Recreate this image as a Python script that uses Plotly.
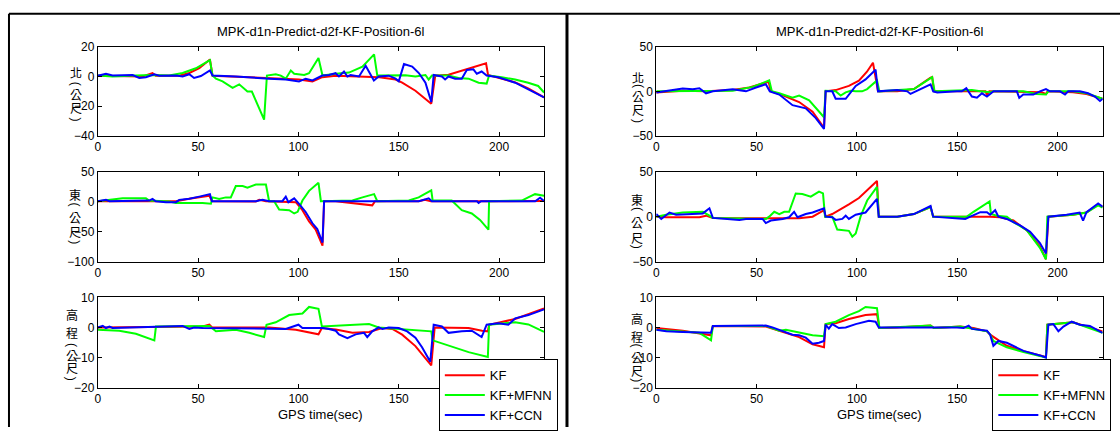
import plotly.graph_objects as go

W, H = 1120, 434
X_TICKS = [0, 50, 100, 150, 200]
TITLE = "MPK-d1n-Predict-d2f-KF-Position-6l"
XLABEL = "GPS time(sec)"
SERIES = ["KF", "KF+MFNN", "KF+CCN"]
COLORS = ["#ff0000", "#00ff00", "#0000ff"]

# ---------------- Left figure: North ----------------
LN_KF_t = [0, 22.4, 27.3, 28.9, 40.6, 45.6, 50.6, 55.9, 57.2, 68.8, 83.8, 100.3, 107, 111.9, 118.5, 140.4, 148.4, 151.7, 158.3, 166.2, 168.2, 174.8, 183.1, 193.5, 194.5, 199.6, 208.1, 214.5, 219.5, 222.4]
LN_KF_v = [0.5, 0, 2.3, 0.5, 0.5, 2.3, 5.5, 11.4, 0.5, 0, -1, -2.1, -3.3, -0.5, 0.5, -0.5, -2.1, -4.2, -9.6, -18.3, 0.5, 1.2, 4.4, 8.8, 1, -1, -4, -8, -11.5, -14]
LN_MF_t = [0, 7.4, 19, 27.3, 35.6, 42.3, 48.9, 55.9, 57.2, 58.9, 62.2, 67.2, 70.5, 74.6, 76.8, 82.9, 84.3, 88.7, 91.2, 93.7, 96.2, 97.9, 102.9, 105.3, 110, 112, 118.6, 125.2, 131.9, 137.7, 139.3, 153.3, 158.3, 163.3, 164.9, 166.5, 174.8, 179.8, 184.8, 189.8, 193.8, 195, 201.3, 208, 214.5, 219.5, 222.4]
LN_MF_v = [0.6, 0, 0.6, 1, 0.6, 2.3, 5.5, 11, 0.6, -1.5, -3.3, -7.6, -5.3, -10.1, -10.1, -29, 0.6, 1.5, 0.6, -1.5, 4, 1.8, 1, 2.2, 12.4, 0.6, 1.8, 2.6, 6.5, 14.8, 0.6, 0.8, 0, 1, -2.1, 0.6, 0.6, -1, -1.5, -4.2, -4.8, 0.6, -0.5, -2.1, -4.2, -6.4, -10.8]
LN_CC_t = [0, 4.1, 7.4, 17.4, 20.7, 24, 28.2, 30.7, 39, 42.3, 45.6, 48, 51.4, 55.9, 57.2, 68.8, 85.4, 93.7, 100.3, 103.6, 107, 111.9, 115.2, 118.5, 120.2, 122.7, 124.4, 126, 130.2, 133.5, 137.6, 140, 145, 148.4, 150, 152.6, 156.7, 160, 163.3, 166.2, 167.4, 171.5, 173.1, 174.8, 178.1, 181.4, 183.9, 187.2, 188.9, 191.3, 193.8, 199.6, 208, 214.5, 222.4]
LN_CC_v = [0.5, 1.8, 0.6, 1, -1, -0.5, 1.5, 0.5, 0.6, 0, 1.5, -1, 0.3, 4, 0.6, 0, -1.5, -2.1, -3.3, -1.5, -2.7, 0.6, 1, 2.2, 0, 3.3, 0, 1, 0, 7.2, -2.7, 0, 0.5, -1.5, -3.3, 8.3, 6.6, 2.3, -4.2, -17.2, 1, 0, -2, 0, -1.5, -1.5, 4.4, 4.8, 1.8, 3.3, 0.6, -0.5, -4.2, -8.5, -14]

# ---------------- Left figure: East ----------------
LM_KF_t = [0, 35.6, 39, 45.6, 55.6, 56.9, 78.8, 80.5, 83.8, 98.7, 102, 105.3, 108.6, 112, 112.8, 118.6, 126.9, 135.2, 136.8, 138.2, 160, 163, 166, 200, 222.4]
LM_KF_v = [0.7, 0.5, 0.7, 4.6, 9.9, 0.7, 0.2, 2.9, 0.7, -0.9, -14.3, -33, -46.4, -73.2, 0.7, 0.7, -2.5, -4.6, -6.2, 0.7, 0.7, 3, 0.7, 0.5, 1]
LM_MF_t = [0, 7.4, 12.4, 24, 25.6, 35.6, 39, 52.2, 56.4, 57.2, 60.5, 63.8, 66.3, 68.8, 72.2, 74.6, 78.8, 83.8, 85.4, 87.9, 90.4, 95.4, 97.9, 99.6, 102, 105.3, 110, 111.2, 126.9, 131.9, 137.7, 139.3, 155, 159.9, 166.2, 166.9, 176.4, 181.4, 186.4, 190.5, 194.7, 195, 211.3, 214.5, 217.9, 222.4]
LM_MF_v = [0.7, 2.9, 5.5, 5.5, 1.8, 0.2, -2.5, -2.5, -3.6, 7.1, 4.5, 7, 7, 25.8, 25.8, 23, 28.4, 28.4, 0.7, 0.7, -13.3, -14.3, -19.7, -17, 1.8, 17.9, 31.3, 0.7, 1.8, 7, 12.4, 0.7, 1.8, 7, 18.8, 1.8, 1.8, -14.3, -19.7, -30.4, -46.5, 0.7, 1.8, 7, 12.4, 9.7]
LM_CC_t = [0, 4.1, 5.8, 25.6, 27.3, 28.9, 34, 39, 40.6, 45.6, 50.6, 55.9, 56.9, 78.8, 82.1, 85.4, 92, 93.7, 95, 97.9, 100.3, 103.6, 107, 109.4, 112, 112.8, 140, 160, 164.9, 166.5, 189, 189.8, 191, 218, 220.4, 222.4]
LM_CC_v = [0.7, 2.9, 0.7, 1.8, 4.6, 0.7, -0.9, -0.9, 2.9, 4.6, 8.3, 12.5, 0.7, 0.7, 2.9, 0.7, 0.7, 8.3, -0.9, 5.5, -3.8, -17.2, -36, -45.5, -68, 0.7, 0.7, 0.7, 5.4, 0.7, 0.7, -2.1, 0.7, 0.7, 6.4, 1]

# ---------------- Left figure: Height ----------------
LB_KF_t = [0, 52.2, 55.6, 57, 85.4, 98.7, 110, 111.7, 118.6, 126.9, 135.2, 141.8, 146.8, 151.7, 158.3, 166.2, 167.9, 184.8, 191.5, 194.4, 195, 208, 222.4]
LB_KF_v = [0, 0.3, 0.9, 0, 0, -0.8, -2.3, -0.2, -0.7, -1.8, -1.5, -0.2, -0.5, -2.4, -6.2, -12.6, 0, -0.2, -1.1, -1.3, 0.9, 2.8, 6.3]
LB_MF_t = [0, 10.7, 19, 28.2, 29, 55.6, 58.9, 62.2, 68.8, 75.5, 82.9, 84.1, 88.7, 95.4, 102, 105.3, 110, 111.7, 118.6, 135.2, 140, 166.2, 166.9, 174.8, 184.8, 194.4, 195, 208, 214.6, 222.4]
LB_MF_v = [-0.8, -1.1, -2.1, -4.3, 0.3, 0.5, -1.3, -1.1, -0.8, -1.8, -3.2, 0.9, 1.7, 4.1, 4.6, 6.8, 6.2, 0.3, 0.5, 1.1, 0, -1.3, -4.3, -6.1, -8.2, -9.8, 0.9, 1.7, 1.0, -1.5]
LB_CC_t = [0, 2.5, 4.1, 5.8, 7.4, 42.3, 45.6, 48, 52.2, 93.7, 100, 102, 112, 115.2, 118.6, 120.2, 124.4, 128.5, 132.7, 134.3, 136.8, 140, 141.8, 145, 150, 154.2, 158.3, 161.6, 165.7, 167.4, 171.5, 174.8, 181.4, 186.4, 191.3, 193.8, 199.6, 204.6, 208, 214.6, 222.4]
LB_CC_v = [0, 0.5, -0.2, 0.3, -0.2, 0.5, -0.5, 0, -0.2, -0.5, 0.9, -0.2, -0.2, -0.5, -1.1, -2.3, -3.6, -2.3, -1.8, -3.2, -1.3, 0, -0.5, 0, -0.2, -1.3, -3.4, -6.6, -11.4, 0.9, 0.3, -1.8, -1.3, -1.1, -3.2, 0.9, 1.4, 0.9, 3.0, 4.1, 6.0]

# ---------------- Right figure: North ----------------
RT_KF_t = [0, 13.2, 24.8, 38.1, 46.4, 56, 57.1, 61.3, 71.2, 77.9, 83.6, 84.4, 89.4, 96, 101, 105, 108, 110.5, 120.1, 128.4, 136.7, 137.5, 138.4, 164, 164.8, 166, 192, 194.2, 195, 207.7, 214.4, 222.4]
RT_KF_v = [-1.2, 0.6, 0, 1.4, 4.3, 10.7, 0, -2.9, -12, -22.8, -40.9, 0, 1.4, 6.1, 12, 22, 32, 0, 0, 2.5, 15.2, 15.9, 0, 0, -3.6, 0, -1, -2.9, 0, -1, -2.9, -8.3]
RT_MF_t = [0, 24.8, 38.1, 48, 56.3, 57.6, 61.3, 67.9, 71.2, 76.2, 83.6, 84.4, 89.4, 91.9, 94.4, 96.9, 99.4, 102.6, 105.1, 110, 111.2, 128.4, 137.5, 138.7, 157.3, 161.5, 166.4, 168.1, 182.9, 189.6, 194.2, 195.4, 207.7, 214.4, 222.4]
RT_MF_v = [0, 0, 0.7, 5, 12.2, 0, -2.2, -7.2, -4.7, -10.1, -29, 0.7, 0, -4.7, -1.1, 0.7, 0, 0, 2.5, 12.2, 0, 2.5, 15.9, 0, 1.4, 0, -1, 0, 0, -2.9, -3.6, 0, 0, -2.2, -8.3]
RT_CC_t = [0, 5, 13.2, 18.2, 21.5, 24.8, 28.2, 38.1, 44.7, 49.7, 54.6, 56.6, 61.3, 67.9, 74.5, 79.5, 83.6, 84.4, 87.7, 89.4, 94.4, 99.4, 104.3, 109.3, 110.5, 120.1, 125.1, 126.7, 136.7, 138, 140, 149.9, 152.3, 154.5, 157.3, 159.8, 162.3, 164.8, 168.1, 179.7, 180.9, 182.9, 187.9, 191.2, 194.2, 196.2, 201.2, 203.7, 205.3, 211.1, 215.2, 218.6, 221.1, 222.4]
RT_CC_v = [-1.2, 0.6, 3.1, 2.4, 3.5, -2.2, 0, 2.4, 0, 4.3, 7.9, 0, -3.6, -15.5, -19.1, -29.9, -42, 0, 0, -8.3, -8.3, 6.1, 13.3, 24.2, 0, 1.4, 0, -2.9, 7.9, 0, -1.2, 0, 0, 3.5, -5.8, -7.2, -2.2, -5.8, 0, 0, -7.2, -3.6, -3.6, 0, 2.5, 0, 0, -3.6, 0, 0, -2.2, -5.8, -10.8, -8.3]

# ---------------- Right figure: East ----------------
RM_KF_t = [0, 5, 21.5, 24.8, 28.2, 54.6, 71.2, 77.9, 83.6, 84.4, 87.7, 96, 101, 110, 110.9, 120.1, 128.4, 136.7, 138, 166.4, 171.4, 178, 184.6, 191.2, 194.2, 195.4, 207.7, 214.4, 220.2, 222.4]
RM_KF_v = [0, -0.7, -0.7, 1.1, -1.4, -1.4, -1.8, 0, 7.1, 0, 2.9, 13.6, 20.7, 39.6, 0, 0, 2.9, 10.7, 0, 0, -0.7, -4.3, -15, -32.9, -47.2, 0, 2.1, 4.6, 13.6, 10.7]
RM_MF_t = [0, 5, 13.2, 23.2, 26.5, 28.2, 54.6, 56.3, 58.8, 61.3, 63.8, 66.2, 69.5, 72.8, 77, 81.1, 83.1, 84.1, 87.7, 90.2, 96, 97.7, 99.4, 101.8, 105.1, 110, 110.9, 120.1, 128.4, 136.7, 138, 154.8, 158.1, 166.1, 166.8, 169.7, 174.7, 178, 184.6, 191.2, 194.2, 194.9, 207.7, 214.4, 220.2, 222.4]
RM_MF_v = [0, 2.1, 4.6, 5.4, 1.1, -1.4, -2.5, 0, 5.4, 2.9, 5.4, 5.4, 25.7, 25, 22.1, 27.8, 25.7, 0, 0, -14.3, -15.7, -22.1, -18.6, 0, 17.9, 32.9, 0, 0, 2.9, 10.7, 0, 0, 5.4, 16.8, 2.9, 1.1, 0, -6, -15, -34.6, -47.2, 0, 2.1, 4.6, 12.5, 10]
RM_CC_t = [0, 2.5, 6.6, 9.9, 23.2, 26.5, 28.2, 41.4, 44.7, 53, 54.6, 57.1, 63, 66.2, 68.7, 70.4, 74.5, 77.9, 83.6, 84.4, 87.7, 89.4, 92.7, 94.4, 96, 99.4, 104.3, 110, 110.9, 120.1, 128.4, 136.7, 138, 154, 156.5, 161.5, 164.8, 166.4, 168.9, 170.5, 174.7, 181.3, 186.3, 191.2, 194.2, 195.4, 204.5, 211, 212.7, 214.4, 220.2, 222.4]
RM_CC_v = [2.9, -2.5, 4.6, 2.1, 3.6, 9.3, -1.4, -3.6, -2.5, -2.5, -7.1, -4.3, -2.5, -0.7, 5.4, -0.7, 2.9, 4.6, 9.3, 0, -0.7, -3.6, -2.5, 1.1, -2.5, 2.1, 4.6, 19.6, 0, 0, 2.9, 11.8, 0, -2.5, 0, 5, 5, 2.1, 7.1, 0, -2.5, -9.6, -16.8, -29.3, -40.8, 0, 2.1, 4.6, -4.3, 5, 14.6, 11.1]

# ---------------- Right figure: Height ----------------
RB_KF_t = [0, 13.2, 27.3, 28.2, 54.6, 61.3, 71.2, 77.9, 83.6, 84.4, 89.4, 96, 104.3, 110, 111.2, 120.1, 136.7, 138.4, 151.5, 158.1, 164.8, 166.4, 174.7, 183, 191.2, 194.2, 194.9, 207.7, 222.4]
RB_KF_v = [-0.2, -1.1, -2.6, 0.5, 0.3, -1.1, -3.2, -5.6, -6.6, 1.1, 1.4, 2.8, 4.1, 4.4, -0.2, 0, 0.6, -0.2, 0.3, -0.2, -1.3, -2.4, -6.1, -7.9, -9.3, -9.8, 0.9, 1.7, -1.3]
RB_MF_t = [0, 13.2, 21.5, 27.3, 28.2, 54.6, 61.3, 64.6, 71.2, 77.9, 83.6, 84.4, 89.4, 96, 101, 104.3, 110, 111.2, 136.7, 138.4, 151.5, 164.8, 166.4, 168, 174.7, 183, 191.2, 194.2, 194.9, 207.7, 222.4]
RB_MF_v = [-0.8, -1.3, -1.8, -4.3, 0.5, 0.5, -1.1, -0.8, -1.8, -2.6, -2.9, 1.1, 1.9, 4.1, 5.4, 6.8, 6.4, -0.2, 0.6, -0.2, 0.3, -1.3, -2.4, -4.5, -6.6, -8.2, -9.5, -10, 0.9, 1.7, -1.8]
RB_CC_t = [0, 5, 13.2, 21.5, 27.3, 28.2, 54.6, 57.9, 62.9, 67.9, 71.2, 74.5, 77.9, 81.1, 83.6, 84.4, 86, 87.7, 91, 94.4, 99.4, 106, 109.3, 110.9, 149.9, 153.2, 155.7, 157.3, 164.8, 166.4, 168, 170.5, 174.7, 183, 191.2, 194.2, 195.4, 197.9, 200.4, 202.9, 207, 211.1, 216.1, 222.4]
RB_CC_v = [-0.8, -1.3, -1.5, -1.8, -1.8, 0.5, 0.6, 0, -1.1, -2.4, -2.6, -3.4, -5.4, -5.1, -4.5, 0.9, -0.4, 1.1, -0.2, 0, 1.1, 2.2, 1.9, 0, 0, -0.2, 0.6, -0.5, -1.1, -2.4, -6.1, -4.5, -5.1, -7.8, -9.3, -10, 0.9, 1.1, -1.3, 0.3, 1.9, 0.9, 0.5, -1.8]

# Y axis settings per panel
YR_N_L = [-40, 20]; YT_N_L = [-40, -20, 0, 20]
YR_E_L = [-100, 50]; YT_E_L = [-100, -50, 0, 50]
YR_H = [-20, 10]; YT_H = [-20, -10, 0, 10]
YR_R = [-50, 50]; YT_R = [-50, 0, 50]

# vertical y-axis labels (parentheses are rotated to read vertically)
LBL_N = ["北", "(", "公", "尺", ")"]
LBL_E = ["東", "(", "公", "尺", ")"]
LBL_H = ["高", "程", "(", "公", "尺", ")"]

# ---------------- Layout geometry (pixels) ----------------
COL_X = [(95, 542.7), (655, 1102.7)]
ROW_Y = [(41, 133.3), (170, 263.3), (300, 393.3)]

panels = [
    (0, 0, [(LN_KF_t, LN_KF_v), (LN_MF_t, LN_MF_v), (LN_CC_t, LN_CC_v)], YR_N_L, YT_N_L, LBL_N, 73, [68, 79, 90, 104, 116]),
    (0, 1, [(LM_KF_t, LM_KF_v), (LM_MF_t, LM_MF_v), (LM_CC_t, LM_CC_v)], YR_E_L, YT_E_L, LBL_E, 72, [194, 204, 217, 232, 243]),
    (0, 2, [(LB_KF_t, LB_KF_v), (LB_MF_t, LB_MF_v), (LB_CC_t, LB_CC_v)], YR_H, YT_H, LBL_H, 69, [318, 336, 349, 360, 373, 384]),
    (1, 0, [(RT_KF_t, RT_KF_v), (RT_MF_t, RT_MF_v), (RT_CC_t, RT_CC_v)], YR_R, YT_R, LBL_N, 637, [73, 82, 92, 106, 118]),
    (1, 1, [(RM_KF_t, RM_KF_v), (RM_MF_t, RM_MF_v), (RM_CC_t, RM_CC_v)], YR_R, YT_R, LBL_E, 636, [199, 209, 223, 238, 248]),
    (1, 2, [(RB_KF_t, RB_KF_v), (RB_MF_t, RB_MF_v), (RB_CC_t, RB_CC_v)], YR_H, YT_H, LBL_H, 636, [322, 340, 350, 362, 376, 386]),
]

FONT = "Liberation Sans, Arial, sans-serif"
CJK = "Noto Sans CJK TC, Noto Sans CJK SC, sans-serif"

fig = go.Figure()
layout = dict(
    width=W, height=H, margin=dict(l=0, r=0, t=0, b=0),
    paper_bgcolor="white", plot_bgcolor="white",
    font=dict(family=FONT, size=12, color="black"),
    showlegend=True,
)
annotations = []

for i, (col, row, data, yr, yt, chars, lx, lys) in enumerate(panels, start=1):
    xa = "x" if i == 1 else f"x{i}"
    ya = "y" if i == 1 else f"y{i}"
    x0, x1 = COL_X[col]
    y0, y1 = ROW_Y[row]
    common = dict(ticks="inside", ticklen=4, tickcolor="black", showline=True,
                  linecolor="black", linewidth=1, mirror="ticks", showgrid=False,
                  zeroline=False, tickfont=dict(family=FONT, size=12, color="black"))
    layout["xaxis" if i == 1 else f"xaxis{i}"] = dict(
        domain=[x0 / W, x1 / W], range=[0, 222.5], tickvals=X_TICKS,
        anchor=ya, **common)
    layout["yaxis" if i == 1 else f"yaxis{i}"] = dict(
        domain=[1 - y1 / H, 1 - y0 / H], range=yr, tickvals=yt,
        anchor=xa, **common)
    legend_name = "legend" if col == 0 else "legend2"
    for k, (t, v) in enumerate(data):
        fig.add_trace(go.Scatter(
            x=t, y=v, mode="lines", name=SERIES[k],
            line=dict(color=COLORS[k], width=2),
            xaxis=xa, yaxis=ya, legend=legend_name,
            showlegend=(row == 2),
        ))
    for ch, cy in zip(chars, lys):
        is_paren = ch in "()"
        annotations.append(dict(
            text=ch, x=lx / W, y=1 - cy / H, xref="paper", yref="paper",
            showarrow=False, xanchor="center", yanchor="middle",
            textangle=90 if is_paren else 0,
            font=dict(family=FONT if is_paren else CJK, size=12, color="black")))

for col in range(2):
    x0, x1 = COL_X[col]
    cx = (x0 + x1) / 2
    annotations.append(dict(
        text=TITLE, x=cx / W, y=1 - 25 / H, xref="paper", yref="paper",
        showarrow=False, xanchor="center", yanchor="middle",
        font=dict(family=FONT, size=13, color="black")))
    annotations.append(dict(
        text=XLABEL, x=cx / W, y=1 - 421.5 / H, xref="paper", yref="paper",
        showarrow=False, xanchor="center", yanchor="middle",
        font=dict(family=FONT, size=13, color="black")))

layout["annotations"] = annotations

legend_common = dict(
    xanchor="left", yanchor="top", bgcolor="white", bordercolor="black",
    borderwidth=1, font=dict(family=FONT, size=13, color="black"),
    tracegroupgap=0, itemwidth=40,
)
layout["legend"] = dict(x=437 / W, y=1 - 364 / H, **legend_common)
layout["legend2"] = dict(x=992 / W, y=1 - 364 / H, **legend_common)

layout["shapes"] = [
    dict(type="line", xref="paper", yref="paper", x0=6 / W, x1=6 / W, y0=0, y1=1 - 7 / H,
         line=dict(color="black", width=2)),
    dict(type="line", xref="paper", yref="paper", x0=6 / W, x1=1, y0=1 - 7 / H, y1=1 - 7 / H,
         line=dict(color="black", width=2)),
    dict(type="line", xref="paper", yref="paper", x0=565.5 / W, x1=565.5 / W, y0=0, y1=1 - 7 / H,
         line=dict(color="black", width=3)),
]

fig.update_layout(**layout)
fig.write_html("out.html")
